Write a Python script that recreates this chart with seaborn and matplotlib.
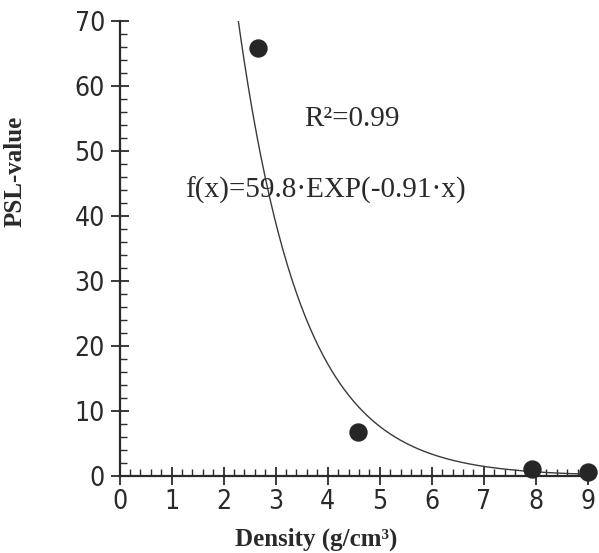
import matplotlib
matplotlib.use('Agg')
import matplotlib.pyplot as plt
from matplotlib.ticker import MultipleLocator
import seaborn as sns
import pandas as pd
import numpy as np

# measured points (density g/cm3, PSL value)
density = [2.66, 4.59, 7.93, 9.0]
psl_value = [65.8, 6.8, 1.1, 0.7]

# exponential curve as drawn in the figure
curve_a = 450.0
curve_b = 0.815

x_ticks = [0, 1, 2, 3, 4, 5, 6, 7, 8, 9]
y_ticks = [0, 10, 20, 30, 40, 50, 60, 70]

sns.set_style("ticks")
plt.rcParams['font.family'] = ['Liberation Serif', 'DejaVu Serif']

fig = plt.figure(figsize=(5.99, 5.53), dpi=100)
ax = fig.add_axes([0.1995, 0.139, 0.782, 0.823])

df = pd.DataFrame({'density': density, 'psl': psl_value})
xs = np.linspace(0.5, 9, 400)
curve = pd.DataFrame({'density': xs, 'psl': curve_a * np.exp(-curve_b * xs)})

sns.lineplot(data=curve, x='density', y='psl', ax=ax, color='#3a3a3a', linewidth=1.0)
sns.scatterplot(data=df, x='density', y='psl', ax=ax, s=150, color='#262626',
                edgecolor='#262626', zorder=5, clip_on=False)

ax.set_xlim(0, 9)
ax.set_ylim(0, 70)
ax.set_xticks(x_ticks)
ax.set_yticks(y_ticks)
ax.xaxis.set_minor_locator(MultipleLocator(0.2))
ax.yaxis.set_minor_locator(MultipleLocator(2))

for side in ['top', 'right']:
    ax.spines[side].set_visible(False)
for side in ['left', 'bottom']:
    ax.spines[side].set_linewidth(1.6)
    ax.spines[side].set_color('#2a2a2a')

ax.tick_params(axis='both', which='major', direction='inout', length=13, width=1.3,
               color='#2a2a2a', labelsize=19, labelcolor='#2a2a2a',
               bottom=True, left=True)
ax.tick_params(axis='both', which='minor', direction='in', length=5, width=1.0,
               color='#2a2a2a', bottom=True, left=True)
ax.tick_params(axis='y', which='major', pad=4)
ax.tick_params(axis='x', which='major', pad=3)
for lab in ax.get_xticklabels() + ax.get_yticklabels():
    lab.set_family(['DejaVu Sans', 'Liberation Sans'])
    lab.set_stretch('condensed')

ax.set_xlabel('Density (g/cm³)', fontsize=18, fontweight='bold', color='#2a2a2a')
ax.set_ylabel('PSL-value', fontsize=18, fontweight='bold', color='#2a2a2a')
ax.xaxis.set_label_coords(0.42, -0.112)
ax.yaxis.set_label_coords(-0.198, 0.67)

ax.text(4.47, 55.0, 'R²=0.99', fontsize=21, color='#2a2a2a', ha='center', va='center')
ax.text(3.95, 44.0, 'f(x)=59.8·EXP(-0.91·x)', fontsize=21, color='#2a2a2a',
        ha='center', va='center')

fig.savefig('out.png', dpi=100, facecolor='white')
